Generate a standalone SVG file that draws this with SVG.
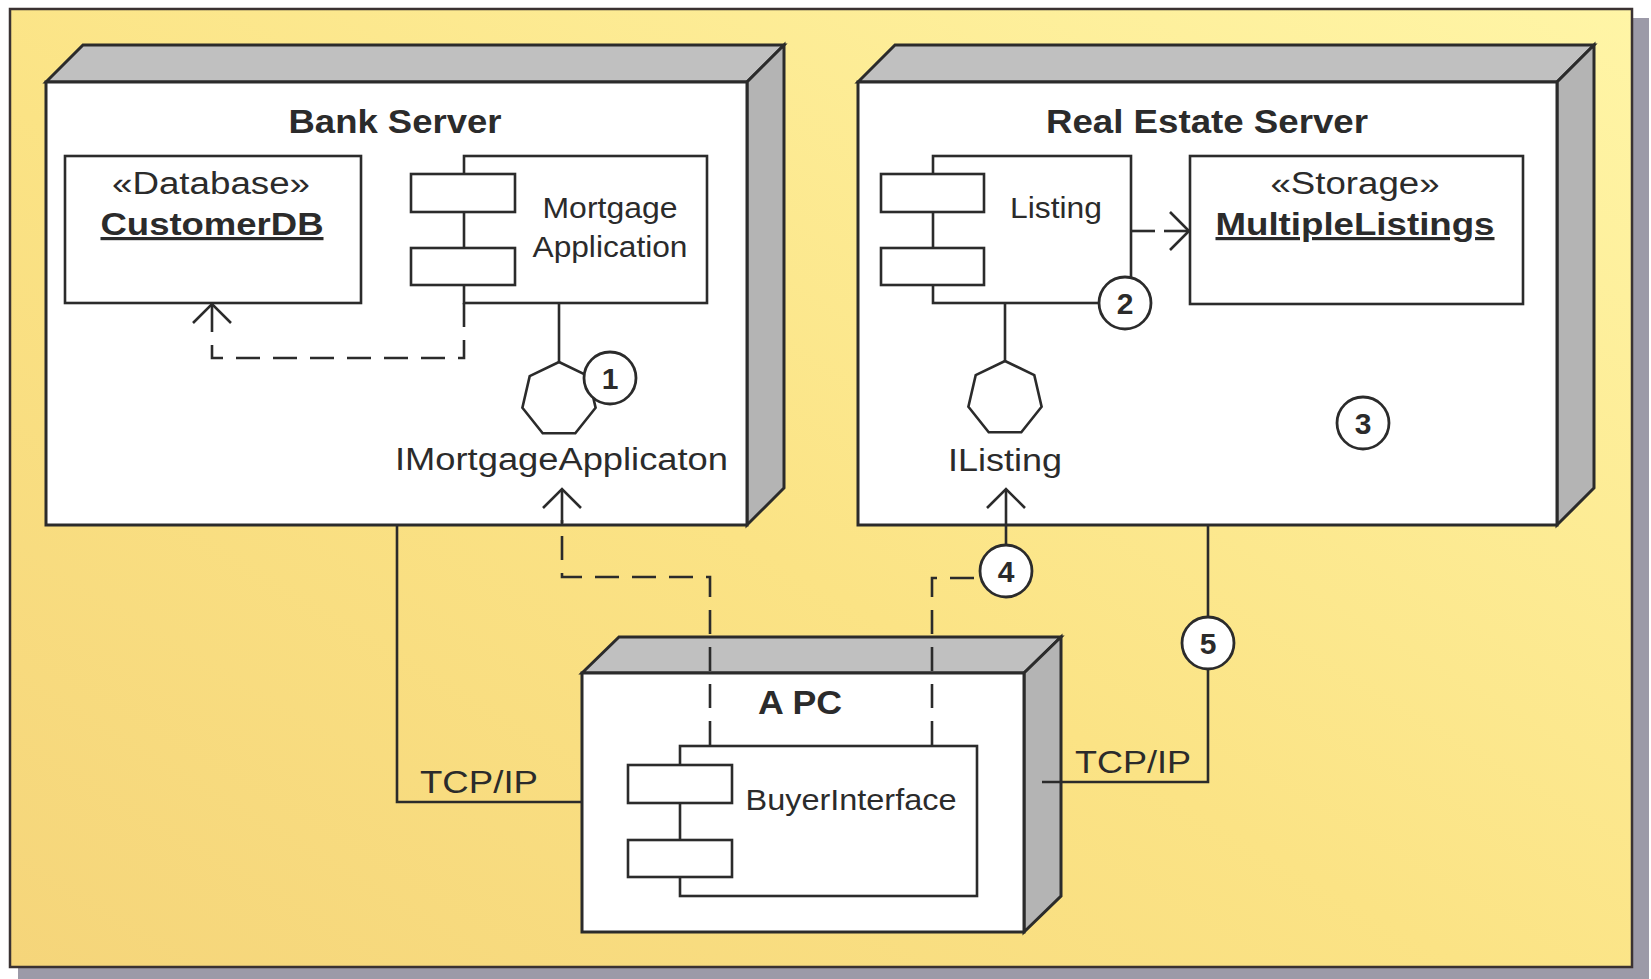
<svg xmlns="http://www.w3.org/2000/svg" width="1651" height="979" viewBox="0 0 1651 979">
<style>
.face{fill:#ffffff;stroke:#2b2b2b;stroke-width:3;stroke-linejoin:miter}
.top{fill:#c0c0c0;stroke:#2b2b2b;stroke-width:3;stroke-linejoin:miter}
.side{fill:#b4b4b4;stroke:#2b2b2b;stroke-width:3;stroke-linejoin:miter}
.box{fill:#ffffff;stroke:#2b2b2b;stroke-width:2.6}
.ln{fill:none;stroke:#2b2b2b;stroke-width:2.6}
.dash{fill:none;stroke:#2b2b2b;stroke-width:2.6;stroke-dasharray:24 13}
.arr{fill:none;stroke:#2b2b2b;stroke-width:2.6;marker-end:url(#open)}
.co{fill:#ffffff;stroke:#2b2b2b;stroke-width:2.8}
text{font-family:"Liberation Sans",Arial,sans-serif;fill:#2b2b2b}
.title{font-weight:bold;font-size:33px;text-anchor:middle}
.st{font-size:31px;text-anchor:middle}
.nm{font-weight:bold;font-size:32px;text-anchor:middle;text-decoration:underline}
.cl{font-size:29px;text-anchor:middle}
.lbl{font-size:31px}
.num{font-weight:bold;font-size:30px;text-anchor:middle}
</style>
<defs>
<linearGradient id="bg" x1="1" y1="0" x2="0" y2="1">
<stop offset="0" stop-color="#FFF5A6"/>
<stop offset="0.55" stop-color="#FBE385"/>
<stop offset="1" stop-color="#F5D57A"/>
</linearGradient>
<marker id="open" markerUnits="userSpaceOnUse" viewBox="-22 -22 26 44" markerWidth="26" markerHeight="44" refX="0" refY="0" orient="auto">
<path d="M-19,-19 L0,0 L-19,19" fill="none" stroke="#2b2b2b" stroke-width="2.6"/>
</marker>
</defs>

<g id="frame">
<rect x="18" y="18" width="1631" height="961" fill="#9c9aa8"/>
<rect x="10" y="9" width="1622" height="958" fill="url(#bg)" stroke="#3a3232" stroke-width="2.5"/>
</g>

<g id="bank-server">
<polygon class="top" points="46,82 83,45 784,45 747,82"/>
<polygon class="side" points="747,82 784,45 784,488 747,525"/>
<rect class="face" x="46" y="82" width="701" height="443"/>
<text class="title" x="395" y="133" textLength="213" lengthAdjust="spacingAndGlyphs">Bank Server</text>
</g>

<g id="real-estate-server">
<polygon class="top" points="858,82 895,45 1594,45 1557,82"/>
<polygon class="side" points="1557,82 1594,45 1594,488 1557,525"/>
<rect class="face" x="858" y="82" width="699" height="443"/>
<text class="title" x="1207" y="133" textLength="322" lengthAdjust="spacingAndGlyphs">Real Estate Server</text>
</g>

<g id="a-pc">
<polygon class="top" points="582,673 619,637 1061,637 1024,673"/>
<polygon class="side" points="1024,673 1061,637 1061,896 1024,932"/>
<rect class="face" x="582" y="673" width="442" height="259"/>
<text class="title" x="800" y="714" textLength="84" lengthAdjust="spacingAndGlyphs">A PC</text>
</g>

<g id="customer-db">
<rect class="box" x="65" y="156" width="296" height="147"/>
<text class="st" x="211" y="194" textLength="198" lengthAdjust="spacingAndGlyphs">«Database»</text>
<text class="nm" x="212" y="235" textLength="223" lengthAdjust="spacingAndGlyphs">CustomerDB</text>
</g>

<g id="mortgage-application">
<rect class="box" x="464" y="156" width="243" height="147"/>
<rect class="box" x="411" y="174" width="104" height="38"/>
<rect class="box" x="411" y="248" width="104" height="37"/>
<text class="cl" x="610" y="218" textLength="135" lengthAdjust="spacingAndGlyphs">Mortgage</text>
<text class="cl" x="610" y="257" textLength="155" lengthAdjust="spacingAndGlyphs">Application</text>
</g>

<g id="imortgage-applicaton">
<polygon class="box" points="559,362 588.3,376.1 595.6,407.8 575.3,433.3 542.7,433.3 522.4,407.8 529.7,376.1"/>
<text class="lbl" x="561.5" y="470" text-anchor="middle" textLength="333" lengthAdjust="spacingAndGlyphs">IMortgageApplicaton</text>
</g>

<g id="listing">
<rect class="box" x="933" y="156" width="198" height="147"/>
<rect class="box" x="881" y="174" width="103" height="38"/>
<rect class="box" x="881" y="248" width="103" height="37"/>
<text class="cl" x="1056" y="218" textLength="92" lengthAdjust="spacingAndGlyphs">Listing</text>
</g>

<g id="multiple-listings">
<rect class="box" x="1190" y="156" width="333" height="148"/>
<text class="st" x="1355" y="194" textLength="169" lengthAdjust="spacingAndGlyphs">«Storage»</text>
<text class="nm" x="1355" y="235" textLength="279" lengthAdjust="spacingAndGlyphs">MultipleListings</text>
</g>

<g id="ilisting">
<polygon class="box" points="1005,361 1034.3,375.1 1041.6,406.8 1021.3,432.3 988.7,432.3 968.4,406.8 975.7,375.1"/>
<text class="lbl" x="1005" y="471" text-anchor="middle" textLength="114" lengthAdjust="spacingAndGlyphs">IListing</text>
</g>

<g id="buyer-interface">
<rect class="box" x="680" y="746" width="297" height="150"/>
<rect class="box" x="628" y="765" width="104" height="38"/>
<rect class="box" x="628" y="840" width="104" height="37"/>
<text class="cl" x="851" y="810" textLength="211" lengthAdjust="spacingAndGlyphs">BuyerInterface</text>
</g>

<g id="connectors">
<line class="ln" x1="559" y1="303" x2="559" y2="362"/>
<line class="ln" x1="1005" y1="303" x2="1005" y2="361"/>
<path class="dash" d="M464,303 V358 H212 V330"/>
<path class="arr" d="M212,330 V304"/>
<path class="dash" d="M1131,231 H1168"/>
<path class="arr" d="M1164,231 H1189"/>
<path class="dash" d="M710,745 V577 H562 V520"/>
<path class="arr" d="M562,525 V489"/>
<path class="dash" d="M932,745 V578 H980"/>
<path class="arr" d="M1006,548 V489"/>
<polyline class="ln" points="397,525 397,802 582,802"/>
<polyline class="ln" points="1208,525 1208,782 1042,782"/>
<text class="lbl" x="420" y="793" textLength="118" lengthAdjust="spacingAndGlyphs">TCP/IP</text>
<text class="lbl" x="1075" y="773" textLength="116" lengthAdjust="spacingAndGlyphs">TCP/IP</text>
</g>

<g id="callouts">
<circle class="co" cx="610" cy="378" r="26"/>
<text class="num" x="610" y="389">1</text>
<circle class="co" cx="1125" cy="303" r="26"/>
<text class="num" x="1125" y="314">2</text>
<circle class="co" cx="1363" cy="423" r="26"/>
<text class="num" x="1363" y="434">3</text>
<circle class="co" cx="1006" cy="571" r="26"/>
<text class="num" x="1006" y="582">4</text>
<circle class="co" cx="1208" cy="643" r="26"/>
<text class="num" x="1208" y="654">5</text>
</g>
</svg>
